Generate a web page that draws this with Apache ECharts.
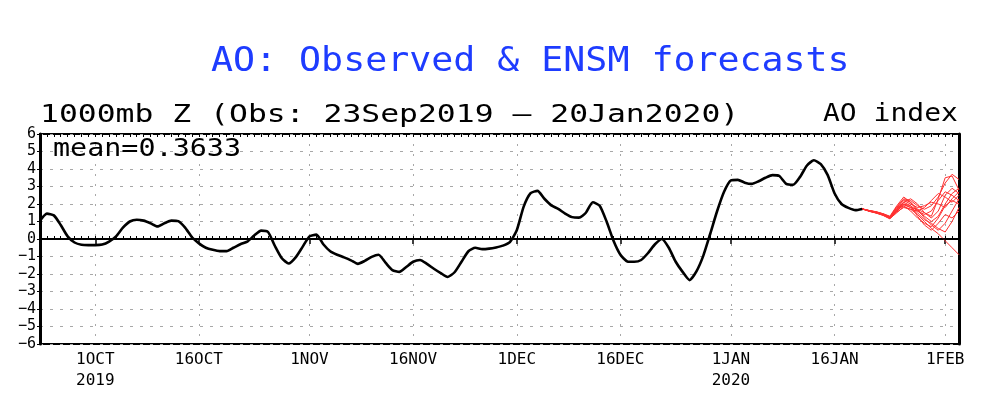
<!DOCTYPE html>
<html>
<head>
<meta charset="utf-8">
<script src="https://cdn.jsdelivr.net/npm/echarts@6/dist/echarts.min.js"></script>
<style>
html,body{margin:0;padding:0;background:#fff;}
#chart{width:990px;height:396px;}
</style>
</head>
<body>
<div id="chart"></div>
<script>
// ---- data ----
const startDate = Date.UTC(2019, 8, 23);   // 23 Sep 2019
const dayCount = 134;                      // 23 Sep 2019 .. 3 Feb 2020
const categories = [];
for (let i = 0; i < dayCount; i++) {
  categories.push(new Date(startDate + i * 86400000).toISOString().slice(0, 10));
}
const tickLabels = {
  '2019-10-01': '1OCT\n2019', '2019-10-16': '16OCT', '2019-11-01': '1NOV',
  '2019-11-16': '16NOV', '2019-12-01': '1DEC', '2019-12-16': '16DEC',
  '2020-01-01': '1JAN\n2020', '2020-01-16': '16JAN', '2020-02-01': '1FEB'
};
// Observed AO, daily 23Sep2019 .. 20Jan2020
const observed = [
  1.05, 1.45, 1.35, 0.8, 0.15, -0.2, -0.33, -0.35, -0.35, -0.32,
  -0.15, 0.15, 0.65, 1.0, 1.1, 1.05, 0.9, 0.72, 0.9, 1.05,
  1.02, 0.65, 0.1, -0.25, -0.5, -0.62, -0.69, -0.69, -0.5, -0.3,
  -0.15, 0.2, 0.48, 0.4, -0.4, -1.1, -1.4, -1.05, -0.45, 0.15,
  0.25, -0.3, -0.7, -0.9, -1.05, -1.22, -1.42, -1.25, -1.02, -0.9,
  -1.35, -1.78, -1.88, -1.6, -1.3, -1.2, -1.42, -1.7, -1.95, -2.17,
  -1.9, -1.3, -0.7, -0.5, -0.58, -0.55, -0.48, -0.38, -0.18, 0.5,
  1.85, 2.62, 2.75, 2.3, 1.92, 1.72, 1.45, 1.25, 1.22, 1.5,
  2.1, 1.9, 1.0, -0.1, -0.9, -1.28, -1.3, -1.2, -0.8, -0.3,
  0.0, -0.5, -1.3, -1.88, -2.35, -1.85, -0.95, 0.3, 1.6, 2.7,
  3.35, 3.38, 3.22, 3.15, 3.3, 3.5, 3.65, 3.6, 3.15, 3.1,
  3.55, 4.2, 4.5, 4.28, 3.65, 2.6, 2.0, 1.78, 1.65, 1.72
];
// Ensemble forecast members, daily 20Jan2020 .. 3Feb2020
const member01 = [1.72, 1.62, 1.55, 1.42, 1.25, 1.8, 2.3, 2.2, 1.9, 1.7, 1.9, 2.4, 3.2, 3.7, 3.4];
const member02 = [1.72, 1.6, 1.5, 1.38, 1.18, 1.6, 2.0, 1.9, 1.6, 1.3, 1.0, 1.3, 2.0, 2.6, 2.9];
const member03 = [1.72, 1.63, 1.56, 1.45, 1.3, 1.9, 2.4, 2.1, 1.7, 1.2, 0.8, 0.5, 0.9, 1.6, 2.3];
const member04 = [1.72, 1.58, 1.48, 1.35, 1.15, 1.55, 1.8, 1.7, 1.4, 1.0, 0.6, 0.3, -0.1, -0.5, -0.9];
const member05 = [1.72, 1.61, 1.52, 1.4, 1.22, 1.7, 2.1, 2.3, 2.0, 1.5, 1.2, 1.6, 2.5, 2.9, 2.6];
const member06 = [1.72, 1.59, 1.5, 1.36, 1.2, 1.65, 1.9, 1.6, 1.2, 0.9, 0.7, 1.2, 1.9, 2.2, 2.0];
const member07 = [1.72, 1.62, 1.54, 1.44, 1.28, 1.75, 2.2, 2.0, 1.8, 1.9, 2.1, 2.0, 1.8, 2.3, 2.7];
const member08 = [1.72, 1.6, 1.5, 1.4, 1.2, 1.6, 1.95, 1.8, 1.5, 1.1, 0.9, 0.6, 0.4, 1.0, 1.8];
const member09 = [1.72, 1.63, 1.55, 1.43, 1.26, 1.85, 2.25, 2.1, 1.6, 1.4, 1.6, 2.2, 2.7, 2.5, 2.2];
const member10 = [1.72, 1.6, 1.52, 1.4, 1.2, 1.7, 2.0, 1.8, 1.7, 1.5, 1.3, 2.3, 3.5, 3.6, 2.8];
const member11 = [1.72, 1.61, 1.53, 1.41, 1.24, 1.6, 2.1, 1.9, 1.3, 0.8, 0.5, 0.9, 1.4, 1.2, 1.6];
const member12 = [1.72, 1.6, 1.49, 1.37, 1.17, 1.5, 1.85, 1.7, 1.6, 1.8, 2.2, 2.6, 2.4, 2.1, 2.5];
const members = [member01, member02, member03, member04, member05, member06,
                 member07, member08, member09, member10, member11, member12];
const yTicks = [-6, -5, -4, -3, -2, -1, 0, 1, 2, 3, 4, 5, 6];
const titleText = 'AO: Observed & ENSM forecasts';
const subtitleText = '1000mb Z (Obs: 23Sep2019 \u2013 20Jan2020)';
const rightText = 'AO index';
const meanText = 'mean=0.3633';

// ---- chart ----
const chart = echarts.init(document.getElementById('chart'));
const MONO = '"DejaVu Sans Mono", "Liberation Mono", monospace';
const fcStart = observed.length - 1;
const fcSeries = members.map(m => ({
  type: 'line', xAxisIndex: 0, yAxisIndex: 0,
  data: categories.map((c, i) => (i >= fcStart && i - fcStart < m.length) ? m[i - fcStart] : '-'),
  showSymbol: false, symbol: 'none',
  lineStyle: { color: '#ff3030', width: 1 },
  z: 3, silent: true, animation: false
}));
const isTick = (idx, val) => Object.prototype.hasOwnProperty.call(tickLabels, val);

chart.setOption({
  animation: false,
  backgroundColor: '#fff',
  graphic: [
    { type: 'text', x: 211, y: 46, scaleY: 0.9, style: { text: titleText, font: '36.6px ' + MONO, fill: '#1e3cff' } },
    { type: 'text', x: 40, y: 103, scaleY: 0.8, style: { text: subtitleText, font: '31.4px ' + MONO, fill: '#000' } },
    { type: 'text', x: 823, y: 103, scaleY: 0.86, style: { text: rightText, font: '28px ' + MONO, fill: '#000' } },
    { type: 'text', x: 53, y: 138, scaleY: 0.86, z: 10, style: { text: meanText, font: '28.4px ' + MONO, fill: '#000' } }
  ],
  grid: { left: 40, right: 31, top: 134, bottom: 52, show: true, borderColor: '#000', borderWidth: 2, backgroundColor: 'transparent' },
  xAxis: [
    {
      type: 'category', data: categories, boundaryGap: false, position: 'bottom',
      axisLine: { show: true, lineStyle: { color: '#000', width: 2 } },
      axisTick: { show: true, interval: isTick, length: 5, inside: false, lineStyle: { color: '#000', width: 1.5 } },
      axisLabel: { interval: isTick, formatter: v => tickLabels[v] || '', color: '#000', fontFamily: MONO, fontSize: 16, lineHeight: 21, margin: 5 },
      splitLine: { show: true, interval: isTick, lineStyle: { color: '#a8a8a8', width: 1, type: [2, 8] } }
    },
    {
      type: 'category', data: categories, boundaryGap: false, position: 'bottom',
      axisLine: { show: false }, axisLabel: { show: false }, splitLine: { show: false },
      axisTick: { show: true, interval: 0, inside: true, length: 3, lineStyle: { color: '#000', width: 1 } }
    },
    {
      type: 'category', data: categories, boundaryGap: false, position: 'top',
      axisLine: { show: false }, axisLabel: { show: false }, splitLine: { show: false },
      axisTick: { show: true, interval: 0, inside: true, length: 3, lineStyle: { color: '#000', width: 1 } }
    }
  ],
  yAxis: [
    {
      type: 'value', min: yTicks[0], max: yTicks[yTicks.length - 1], interval: 1,
      axisLine: { show: true, lineStyle: { color: '#000', width: 3 } },
      axisTick: { show: true, length: 3, lineStyle: { color: '#000' } },
      axisLabel: { color: '#000', fontFamily: MONO, fontSize: 15, margin: 4,
        formatter: v => v < 0 ? '\u2212' + Math.abs(v) : String(v) },
      splitLine: { show: true, lineStyle: { color: '#a8a8a8', width: 1, type: [3, 7] } }
    },
    {
      type: 'value', min: yTicks[0], max: yTicks[yTicks.length - 1], interval: 1, position: 'right',
      axisLine: { show: true, lineStyle: { color: '#000', width: 3 } },
      axisTick: { show: false }, axisLabel: { show: false }, splitLine: { show: false }
    }
  ],
  series: [
    {
      type: 'line', xAxisIndex: 0, yAxisIndex: 0, data: observed,
      showSymbol: false, symbol: 'none', smooth: 0.2,
      lineStyle: { color: '#000', width: 2.6 }, z: 4, silent: true,
      markLine: { silent: true, symbol: ['none', 'none'], label: { show: false },
        lineStyle: { color: '#000', width: 1.5, type: [8, 4] }, data: [{ yAxis: 0 }] }
    },
    ...fcSeries
  ]
});
</script>
</body>
</html>
